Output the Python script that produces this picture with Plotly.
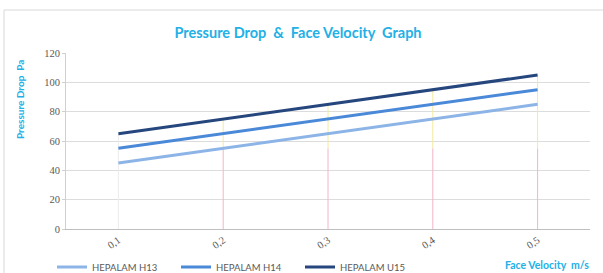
import plotly.graph_objects as go

velocity = ["0,1", "0,2", "0,3", "0,4", "0,5"]
h13 = [45, 55, 65, 75, 85]
h14 = [55, 65, 75, 85, 95]
u15 = [65, 75, 85, 95, 105]
series_names = ["HEPALAM H13", "HEPALAM H14", "HEPALAM U15"]
series_colors = ["#8cb4e6", "#4a88d8", "#26467e"]
drop_split = 55

W, H = 603, 273
L, R, T, B = 66, 13, 53, 44
pw, ph = W - L - R, H - T - B

fig = go.Figure()

# drop lines from 0 up to the highest series
for i, v in enumerate(velocity):
    top = max(h13[i], h14[i], u15[i])
    if i == 0:
        fig.add_trace(go.Scatter(x=[v, v], y=[0, top], mode="lines",
                                 line=dict(color="#ececec", width=1),
                                 showlegend=False, hoverinfo="skip"))
    else:
        fig.add_trace(go.Scatter(x=[v, v], y=[0, drop_split], mode="lines",
                                 line=dict(color="#f4b4c6", width=1),
                                 showlegend=False, hoverinfo="skip"))
        fig.add_trace(go.Scatter(x=[v, v], y=[drop_split, top], mode="lines",
                                 line=dict(color="#f4ea9a", width=1),
                                 showlegend=False, hoverinfo="skip"))

for name, vals, col in zip(series_names, [h13, h14, u15], series_colors):
    fig.add_trace(go.Scatter(x=velocity, y=vals, mode="lines", name=name,
                             line=dict(color=col, width=3)))

def px_x(px):
    return (px - L) / pw

def px_y(py):
    return (H - B - py) / ph

fig.update_layout(
    width=W, height=H,
    margin=dict(l=L, r=R, t=T, b=B, autoexpand=False),
    paper_bgcolor="white", plot_bgcolor="white",
    title=dict(text="<b>Pressure Drop  &  Face Velocity  Graph</b>",
               x=298 / W, xanchor="center", y=1 - 33 / H, yanchor="middle",
               font=dict(family="Lato", size=14.5, color="#22b0e6")),
    xaxis=dict(type="category", range=[-0.5, 4.5], showgrid=False, automargin=False,
               showline=True, linecolor="#bfbfbf", linewidth=1,
               tickangle=-35, ticks="",
               tickfont=dict(family="Liberation Serif", size=10.5, color="#595959")),
    yaxis=dict(range=[0, 120], dtick=20, showgrid=True, gridcolor="#dcdcdc",
               automargin=False,
               gridwidth=1, zeroline=False, showline=True, linecolor="#d0d0d0",
               ticks="outside", ticklen=3, tickcolor="#d0d0d0",
               tickfont=dict(family="Liberation Serif", size=10.5, color="#595959")),
    legend=dict(orientation="h", x=px_x(52), xanchor="left", y=px_y(267),
                yanchor="middle", font=dict(family="Lato", size=9.5, color="#595959"),
                entrywidth=79, entrywidthmode="pixels", itemwidth=30,
                bgcolor="rgba(0,0,0,0)", tracegroupgap=0),
    showlegend=True,
    annotations=[
        dict(text="<b>Face Velocity  m/s</b>", xref="paper", yref="paper",
             x=px_x(547), y=px_y(265), xanchor="center", yanchor="middle",
             showarrow=False, font=dict(family="Lato", size=10.5, color="#22b0e6")),
        dict(text="<b>Pressure Drop  Pa</b>", xref="paper", yref="paper",
             x=px_x(20), y=px_y(100), xanchor="center", yanchor="middle",
             textangle=-90, showarrow=False,
             font=dict(family="Lato", size=10, color="#22b0e6")),
    ],
    shapes=[
        dict(type="line", xref="paper", yref="paper", x0=px_x(4), x1=px_x(603),
             y0=px_y(10), y1=px_y(10), line=dict(color="#d9d9d9", width=1)),
        dict(type="line", xref="paper", yref="paper", x0=px_x(4), x1=px_x(4),
             y0=px_y(10), y1=px_y(273), line=dict(color="#d9d9d9", width=1)),
    ],
)

fig.write_html("out.html", config={"displayModeBar": False},
               post_script="document.body.style.margin='0';document.body.style.overflow='hidden';")
